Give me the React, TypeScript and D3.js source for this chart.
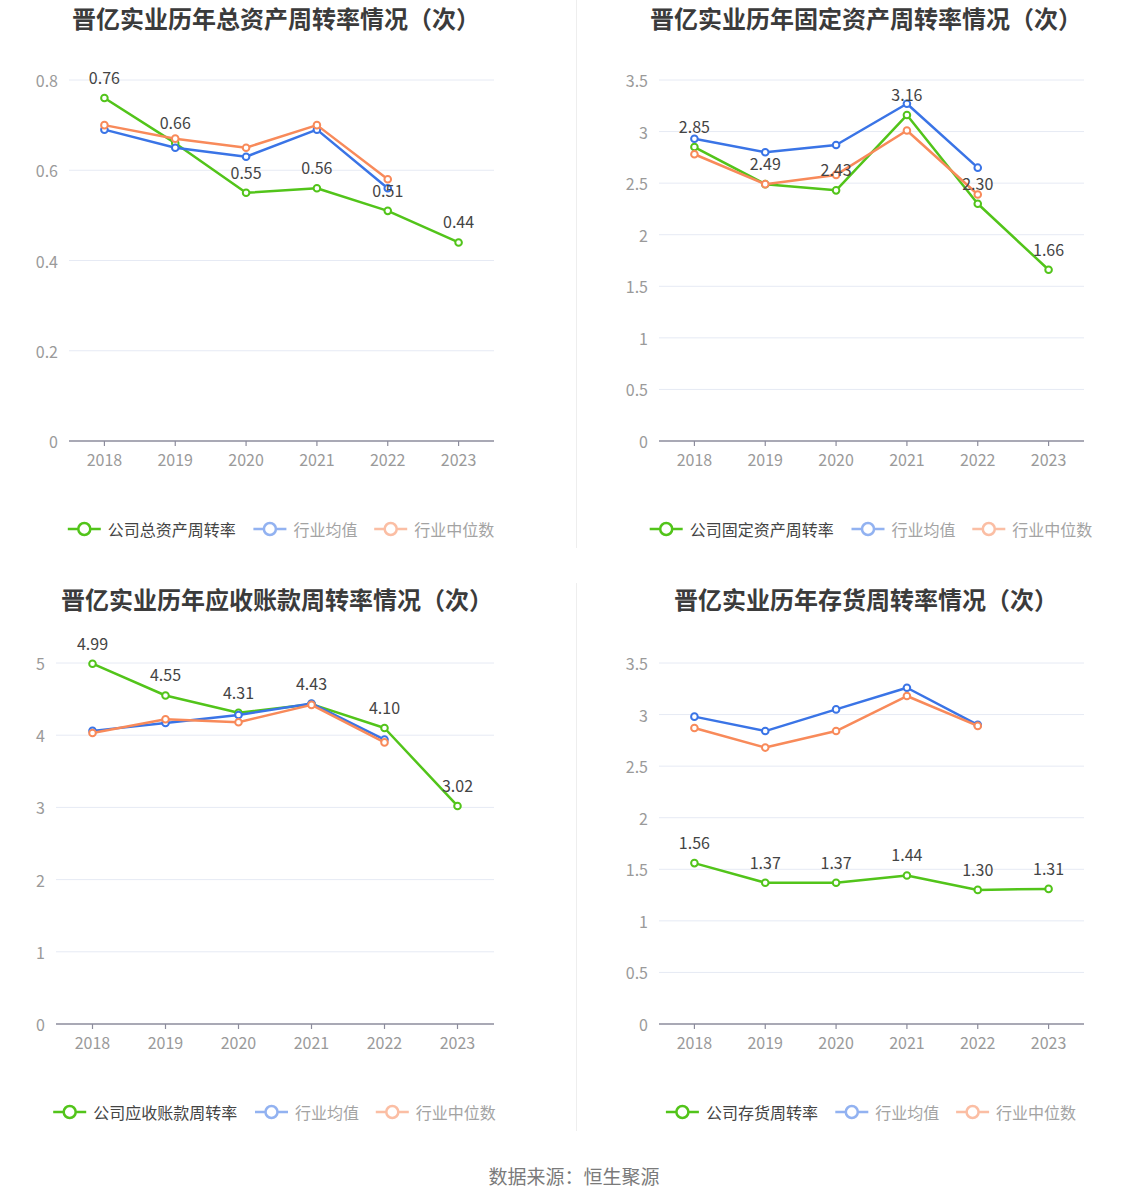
import React from 'react';
import * as d3 from 'd3';

const years = ['2018', '2019', '2020', '2021', '2022', '2023'];

const totalAssetCompany = [0.76, 0.66, 0.55, 0.56, 0.51, 0.44];
const totalAssetMean = [0.69, 0.65, 0.63, 0.69, 0.56];
const totalAssetMedian = [0.70, 0.67, 0.65, 0.70, 0.58];
const totalAssetTicks = [0, 0.2, 0.4, 0.6, 0.8];

const fixedAssetCompany = [2.85, 2.49, 2.43, 3.16, 2.30, 1.66];
const fixedAssetMean = [2.93, 2.80, 2.87, 3.27, 2.65];
const fixedAssetMedian = [2.78, 2.49, 2.58, 3.01, 2.39];
const fixedAssetTicks = [0, 0.5, 1, 1.5, 2, 2.5, 3, 3.5];

const receivableCompany = [4.99, 4.55, 4.31, 4.43, 4.10, 3.02];
const receivableMean = [4.06, 4.17, 4.28, 4.44, 3.94];
const receivableMedian = [4.03, 4.22, 4.18, 4.42, 3.90];
const receivableTicks = [0, 1, 2, 3, 4, 5];

const inventoryCompany = [1.56, 1.37, 1.37, 1.44, 1.30, 1.31];
const inventoryMean = [2.98, 2.84, 3.05, 3.26, 2.90];
const inventoryMedian = [2.87, 2.68, 2.84, 3.18, 2.89];
const inventoryTicks = [0, 0.5, 1, 1.5, 2, 2.5, 3, 3.5];

const legendMean = '行业均值';
const legendMedian = '行业中位数';

const GREEN = '#52c41a';
const BLUE = '#3a74e6';
const ORANGE = '#f88a5a';
const FONT = '"Noto Sans CJK SC", "Noto Sans", sans-serif';

type PanelProps = {
  title: string;
  legendName: string;
  company: number[];
  mean: number[];
  median: number[];
  ticks: number[];
  left: number;
  right: number;
  top: number;
  bottom: number;
  titleX: number;
  titleY: number;
  legendY: number;
};

function Panel(p: PanelProps) {
  const x = d3.scaleBand<string>().domain(years).range([p.left, p.right]).padding(0);
  const cx = (i: number) => (x(years[i]) as number) + x.bandwidth() / 2;
  const yMax = p.ticks[p.ticks.length - 1];
  const y = d3.scaleLinear().domain([0, yMax]).range([p.bottom, p.top]);
  const line = d3
    .line<number>()
    .x((_, i) => cx(i))
    .y((d) => y(d));

  const series = [
    { data: p.company, color: GREEN },
    { data: p.mean, color: BLUE },
    { data: p.median, color: ORANGE },
  ];

  const charW = 16.2;
  const items = [
    { name: p.legendName, color: GREEN, text: '#444', op: 1 },
    { name: legendMean, color: BLUE, text: '#a3a3a3', op: 0.55 },
    { name: legendMedian, color: ORANGE, text: '#a3a3a3', op: 0.55 },
  ];
  const widths = items.map((it) => 33 + 7 + it.name.length * charW);
  const total = widths.reduce((a, b) => a + b, 0) + 16 * (items.length - 1);
  let lx = (p.left + p.right) / 2 - total / 2;
  const legendPos = items.map((it, i) => {
    const pos = lx;
    lx += widths[i] + 16;
    return pos;
  });

  const fmtTick = (v: number) => d3.format('~g')(v);

  return (
    <g>
      <text
        x={p.titleX}
        y={p.titleY}
        textAnchor="middle"
        fontFamily={FONT}
        fontWeight="bold"
        fontSize={24}
        fill="#3b3b3b"
      >
        {p.title}
      </text>
      {p.ticks.map((t) => (
        <g key={t}>
          {t !== 0 && (
            <line x1={p.left} x2={p.right} y1={y(t)} y2={y(t)} stroke="#e6eaf4" strokeWidth={1} />
          )}
          <text
            x={p.left - 11}
            y={y(t)}
            textAnchor="end"
            dominantBaseline="central"
            fontFamily={FONT}
            fontSize={16}
            fill="#9a9a9a"
          >
            {fmtTick(t)}
          </text>
        </g>
      ))}
      <line x1={p.left} x2={p.right} y1={p.bottom} y2={p.bottom} stroke="#8c8c9c" strokeWidth={1.5} />
      {years.map((yr, i) => (
        <g key={yr}>
          <line x1={cx(i)} x2={cx(i)} y1={p.bottom} y2={p.bottom + 5} stroke="#8c8c9c" strokeWidth={1.2} />
          <text
            x={cx(i)}
            y={p.bottom + 18}
            textAnchor="middle"
            dominantBaseline="central"
            fontFamily={FONT}
            fontSize={16}
            fill="#9a9a9a"
          >
            {yr}
          </text>
        </g>
      ))}
      {series.map((s, si) => (
        <g key={si}>
          <path d={line(s.data) || ''} fill="none" stroke={s.color} strokeWidth={2.5} strokeLinejoin="round" />
          {s.data.map((v, i) => (
            <circle key={i} cx={cx(i)} cy={y(v)} r={3.3} fill="#fff" stroke={s.color} strokeWidth={2} />
          ))}
        </g>
      ))}
      {p.company.map((v, i) => (
        <text
          key={i}
          x={cx(i)}
          y={y(v) - 14}
          textAnchor="middle"
          fontFamily={FONT}
          fontSize={16}
          fill="#444"
        >
          {v.toFixed(2)}
        </text>
      ))}
      {items.map((it, i) => (
        <g key={it.name}>
          <g opacity={it.op}>
            <line
              x1={legendPos[i]}
              x2={legendPos[i] + 33}
              y1={p.legendY}
              y2={p.legendY}
              stroke={it.color}
              strokeWidth={2.5}
            />
            <circle cx={legendPos[i] + 16.5} cy={p.legendY} r={6} fill="#fff" stroke={it.color} strokeWidth={2.5} />
          </g>
          <text
            x={legendPos[i] + 40}
            y={p.legendY}
            dominantBaseline="central"
            fontFamily={FONT}
            fontSize={16}
            fill={it.text}
          >
            {it.name}
          </text>
        </g>
      ))}
    </g>
  );
}

export default function App() {
  return (
    <div style={{ position: 'absolute', left: 0, top: 0 }}>
      <svg width={1148} height={1202} style={{ display: 'block', background: '#fff' }}>
        <rect x={0} y={0} width={1148} height={1202} fill="#fff" />
        <line x1={576.5} x2={576.5} y1={0} y2={548} stroke="#eeeeee" strokeWidth={1} />
        <line x1={576.5} x2={576.5} y1={583} y2={1131} stroke="#eeeeee" strokeWidth={1} />
        <Panel
          title="晋亿实业历年总资产周转率情况（次）"
          legendName="公司总资产周转率"
          company={totalAssetCompany}
          mean={totalAssetMean}
          median={totalAssetMedian}
          ticks={totalAssetTicks}
          left={69}
          right={494}
          top={80}
          bottom={441}
          titleX={276}
          titleY={27.5}
          legendY={529}
        />
        <Panel
          title="晋亿实业历年固定资产周转率情况（次）"
          legendName="公司固定资产周转率"
          company={fixedAssetCompany}
          mean={fixedAssetMean}
          median={fixedAssetMedian}
          ticks={fixedAssetTicks}
          left={659}
          right={1084}
          top={80}
          bottom={441}
          titleX={866}
          titleY={27.5}
          legendY={529}
        />
        <Panel
          title="晋亿实业历年应收账款周转率情况（次）"
          legendName="公司应收账款周转率"
          company={receivableCompany}
          mean={receivableMean}
          median={receivableMedian}
          ticks={receivableTicks}
          left={56}
          right={494}
          top={663}
          bottom={1024}
          titleX={277}
          titleY={609}
          legendY={1112}
        />
        <Panel
          title="晋亿实业历年存货周转率情况（次）"
          legendName="公司存货周转率"
          company={inventoryCompany}
          mean={inventoryMean}
          median={inventoryMedian}
          ticks={inventoryTicks}
          left={659}
          right={1084}
          top={663}
          bottom={1024}
          titleX={866}
          titleY={609}
          legendY={1112}
        />
        <text
          x={574}
          y={1175}
          textAnchor="middle"
          dominantBaseline="central"
          fontFamily={FONT}
          fontSize={19}
          fill="#7a7a7a"
        >
          数据来源：恒生聚源
        </text>
      </svg>
    </div>
  );
}
